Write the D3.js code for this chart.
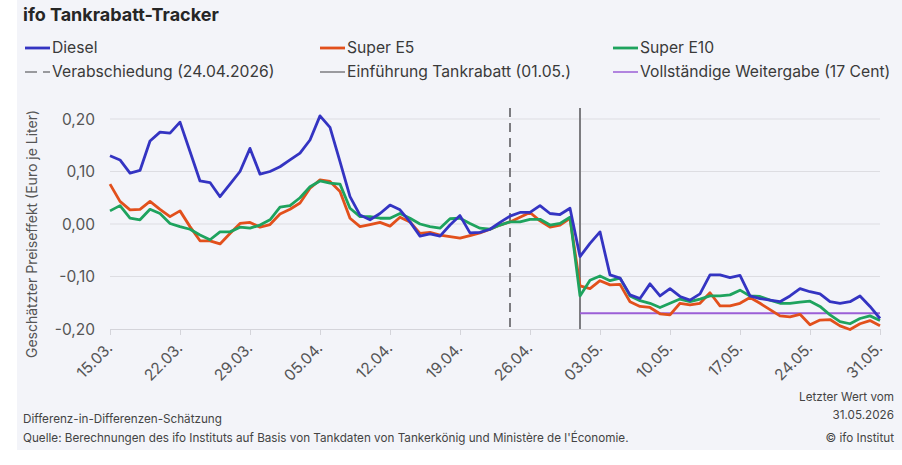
<!DOCTYPE html>
<html>
<head>
<meta charset="utf-8">
<script src="https://cdn.jsdelivr.net/npm/d3@7"></script>
<style>
  body { margin: 0; background: #ffffff; }
  text { font-family: Inter, "Noto Sans", sans-serif; }
</style>
</head>
<body>
<div id="chart"></div>
<script>
// ifo Tankrabatt-Tracker: estimated price effect per fuel type, daily.

// Daily values from 15.03. to 31.05. (78 days).
const startDay = new Date(2026, 2, 15);
const endDay = new Date(2026, 4, 31);

const diesel = [
    0.130, 0.122, 0.097, 0.102, 0.158, 0.175, 0.173, 0.194, 0.138, 0.082,
    0.079, 0.052, 0.076, 0.100, 0.144, 0.095, 0.100, 0.109, 0.122, 0.135,
    0.160, 0.206, 0.184, 0.119, 0.052, 0.017, 0.008, 0.020, 0.036, 0.027,
    0.004, -0.023, -0.019, -0.023, -0.002, 0.016, -0.017, -0.016, -0.010, 0.003,
    0.015, 0.022, 0.022, 0.035, 0.020, 0.018, 0.030, -0.062, -0.037, -0.015,
    -0.097, -0.103, -0.135, -0.142, -0.114, -0.137, -0.123, -0.138, -0.145, -0.133,
    -0.097, -0.097, -0.102, -0.098, -0.137, -0.142, -0.145, -0.148, -0.137, -0.123,
    -0.129, -0.133, -0.148, -0.151, -0.148, -0.137, -0.157, -0.180
];
const superE5 = [
    0.076, 0.043, 0.027, 0.028, 0.043, 0.028, 0.014, 0.025, -0.005, -0.032,
    -0.032, -0.038, -0.018, 0.001, 0.003, -0.006, -0.001, 0.019, 0.028, 0.040,
    0.068, 0.084, 0.081, 0.062, 0.011, -0.005, -0.001, 0.003, -0.004, 0.013,
    0.004, -0.018, -0.016, -0.021, -0.024, -0.027, -0.022, -0.017, -0.010, -0.002,
    0.004, 0.013, 0.022, 0.006, -0.006, -0.002, 0.011, -0.118, -0.123, -0.108,
    -0.116, -0.115, -0.148, -0.157, -0.159, -0.171, -0.173, -0.151, -0.154, -0.151,
    -0.131, -0.156, -0.156, -0.151, -0.140, -0.151, -0.163, -0.175, -0.177, -0.172,
    -0.192, -0.183, -0.182, -0.194, -0.201, -0.190, -0.184, -0.194
];
const superE10 = [
    0.025, 0.035, 0.011, 0.008, 0.028, 0.020, 0.001, -0.005, -0.010, -0.021,
    -0.030, -0.015, -0.015, -0.006, -0.008, -0.002, 0.008, 0.032, 0.035, 0.050,
    0.071, 0.082, 0.078, 0.076, 0.030, 0.014, 0.014, 0.011, 0.011, 0.020,
    0.011, 0.000, -0.005, -0.008, 0.010, 0.011, 0.001, -0.008, -0.010, -0.002,
    0.004, 0.004, 0.009, 0.009, -0.002, 0.001, 0.013, -0.137, -0.107, -0.099,
    -0.108, -0.103, -0.137, -0.146, -0.151, -0.159, -0.151, -0.143, -0.148, -0.143,
    -0.137, -0.137, -0.135, -0.126, -0.137, -0.138, -0.145, -0.151, -0.151, -0.149,
    -0.147, -0.157, -0.173, -0.186, -0.190, -0.180, -0.175, -0.184
];

// Events and the reference level
const dateBeschluss = new Date(2026, 3, 24);
const dateEinfuehrung = new Date(2026, 4, 1);
const fullPassThrough = -0.17;

const yTicks = [-0.2, -0.1, 0.0, 0.1, 0.2];
const xTickLabels = ["15.03.", "22.03.", "29.03.", "05.04.", "12.04.", "19.04.",
    "26.04.", "03.05.", "10.05.", "17.05.", "24.05.", "31.05."];

const width = 902, height = 465;
const svg = d3.select("#chart").append("svg")
    .attr("width", width)
    .attr("height", height);

// light card background
svg.append("rect")
    .attr("x", 17).attr("y", 0)
    .attr("width", width - 17).attr("height", 450)
    .attr("fill", "#f3f4f9");

const days = d3.timeDay.range(startDay, d3.timeDay.offset(endDay, 1));

const x = d3.scaleTime()
    .domain([startDay, endDay])
    .range([110, 880]);
const y = d3.scaleLinear()
    .domain([-0.2, 0.2])
    .range([329, 119]);

// Title
svg.append("text")
    .attr("x", 23).attr("y", 21)
    .attr("font-size", 18).attr("font-weight", 700)
    .attr("fill", "#262626")
    .text("ifo Tankrabatt-Tracker");

// Grid lines
svg.append("g")
    .selectAll("line")
    .data(yTicks.filter(d => d > -0.2))
    .join("line")
    .attr("x1", 110).attr("x2", 880)
    .attr("y1", d => y(d)).attr("y2", d => y(d))
    .attr("stroke", "#dddde2").attr("stroke-width", 1);

// Y axis labels
const fmt = d => d3.format(".2f")(d).replace(".", ",").replace("−", "-");
svg.append("g")
    .selectAll("text")
    .data(yTicks)
    .join("text")
    .attr("x", 95).attr("y", d => y(d))
    .attr("dy", "0.36em")
    .attr("text-anchor", "end")
    .attr("font-size", 15.5)
    .attr("fill", "#555")
    .text(fmt);

svg.append("text")
    .attr("transform", "translate(37,234) rotate(-90)")
    .attr("text-anchor", "middle")
    .attr("font-size", 14)
    .attr("fill", "#555")
    .text("Geschätzter Preiseffekt (Euro je Liter)");

// X axis
const tickDates = d3.timeDay.range(startDay, d3.timeDay.offset(endDay, 1), 7);
const xAxis = d3.axisBottom(x)
    .tickValues(tickDates)
    .tickSize(6)
    .tickFormat((d, i) => xTickLabels[i]);
const gx = svg.append("g")
    .attr("transform", "translate(0,329)")
    .call(xAxis);
gx.select(".domain").attr("stroke", "#d4d4da");
gx.selectAll(".tick line").attr("stroke", "#d4d4da");
gx.selectAll(".tick text")
    .attr("font-family", "Inter, 'Noto Sans', sans-serif")
    .attr("font-size", 15.5)
    .attr("fill", "#555")
    .attr("text-anchor", "end")
    .attr("x", 0).attr("y", 0).attr("dy", 0)
    .attr("transform", "translate(3,20) rotate(-45)");

// Event lines
svg.append("line")
    .attr("x1", x(dateBeschluss)).attr("x2", x(dateBeschluss))
    .attr("y1", 108).attr("y2", 329)
    .attr("stroke", "#7c7c80").attr("stroke-width", 2)
    .attr("stroke-dasharray", "9,6");
svg.append("line")
    .attr("x1", x(dateEinfuehrung)).attr("x2", x(dateEinfuehrung))
    .attr("y1", 108).attr("y2", 329)
    .attr("stroke", "#7c7c80").attr("stroke-width", 2);
svg.append("line")
    .attr("x1", x(dateEinfuehrung)).attr("x2", 880)
    .attr("y1", y(fullPassThrough)).attr("y2", y(fullPassThrough))
    .attr("stroke", "#9b5fd6").attr("stroke-width", 2);

// Series lines
const line = d3.line()
    .x((d, i) => x(days[i]))
    .y(d => y(d));

const series = [
    { name: "Super E5", values: superE5, color: "#e2501c" },
    { name: "Super E10", values: superE10, color: "#1ea35e" },
    { name: "Diesel", values: diesel, color: "#3434c2" }
];
series.forEach(s => {
    svg.append("path")
        .attr("d", line(s.values))
        .attr("fill", "none")
        .attr("stroke", s.color)
        .attr("stroke-width", 2.8)
        .attr("stroke-linejoin", "round");
});

// Legend
const legendItems = [
    { label: "Diesel", color: "#3434c2", w: 2.8, dash: null, lx: 25, ly: 48 },
    { label: "Super E5", color: "#e2501c", w: 2.8, dash: null, lx: 320, ly: 48 },
    { label: "Super E10", color: "#1ea35e", w: 2.8, dash: null, lx: 613, ly: 48 },
    { label: "Verabschiedung (24.04.2026)", color: "#7c7c80", w: 1.5, dash: "12,6", lx: 25, ly: 72 },
    { label: "Einführung Tankrabatt (01.05.)", color: "#7c7c80", w: 1.5, dash: null, lx: 320, ly: 72 },
    { label: "Vollständige Weitergabe (17 Cent)", color: "#9b5fd6", w: 1.5, dash: null, lx: 613, ly: 72 }
];
const lg = svg.append("g");
legendItems.forEach(d => {
    lg.append("line")
        .attr("x1", d.lx).attr("x2", d.lx + 25)
        .attr("y1", d.ly).attr("y2", d.ly)
        .attr("stroke", d.color).attr("stroke-width", d.w)
        .attr("stroke-dasharray", d.dash);
    lg.append("text")
        .attr("x", d.lx + 27).attr("y", d.ly)
        .attr("dy", "0.35em")
        .attr("font-size", 15.7)
        .attr("fill", "#3a3a3a")
        .text(d.label);
});

// Footer notes
const footSize = 11.7;
svg.append("text")
    .attr("x", 23).attr("y", 423)
    .attr("font-size", footSize).attr("fill", "#444")
    .text("Differenz-in-Differenzen-Schätzung");
svg.append("text")
    .attr("x", 23).attr("y", 442)
    .attr("font-size", footSize).attr("fill", "#444")
    .text("Quelle: Berechnungen des ifo Instituts auf Basis von Tankdaten von Tankerkönig und Ministère de l'Économie.");
svg.append("text")
    .attr("x", 894).attr("y", 401)
    .attr("text-anchor", "end")
    .attr("font-size", footSize).attr("fill", "#444")
    .text("Letzter Wert vom");
svg.append("text")
    .attr("x", 894).attr("y", 419)
    .attr("text-anchor", "end")
    .attr("font-size", footSize).attr("fill", "#444")
    .text("31.05.2026");
svg.append("text")
    .attr("x", 894).attr("y", 442)
    .attr("text-anchor", "end")
    .attr("font-size", footSize).attr("fill", "#444")
    .text("© ifo Institut");
</script>
</body>
</html>
